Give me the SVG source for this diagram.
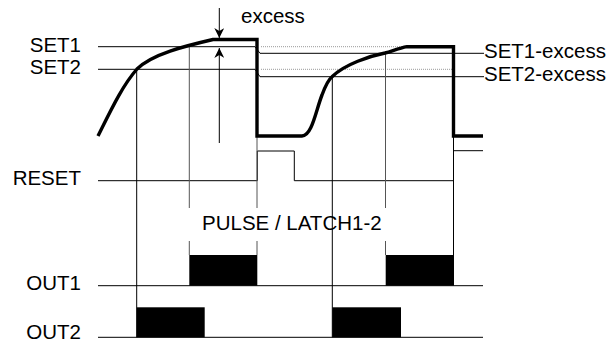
<svg xmlns="http://www.w3.org/2000/svg" width="610" height="341" viewBox="0 0 610 341">
<style>
text{font-family:"Liberation Sans",Arial,sans-serif;font-size:20.5px;fill:#000}
.t{fill:none;stroke:#000;stroke-width:1}
.g{fill:none;stroke:#555;stroke-width:1}
.d{fill:none;stroke:#999;stroke-width:1;stroke-dasharray:1 1}
.k{fill:none;stroke:#000;stroke-width:3.4;stroke-linejoin:miter}
.p{fill:#000;stroke:none}
</style>
<defs>
<marker id="ah" viewBox="0 0 10 10" refX="10" refY="5" markerWidth="10" markerHeight="10" markerUnits="userSpaceOnUse" orient="auto">
<path d="M0,0 L10,5 L0,10 L3,5 Z" fill="#000"/>
</marker>
</defs>
<rect width="610" height="341" fill="#fff"/>
<g id="labels">
<text x="81" y="51.5" text-anchor="end">SET1</text>
<text x="81" y="74" text-anchor="end">SET2</text>
<text x="81" y="185" text-anchor="end">RESET</text>
<text x="81" y="290" text-anchor="end">OUT1</text>
<text x="81" y="338.5" text-anchor="end">OUT2</text>
<text x="241" y="22.5">excess</text>
<text x="484" y="57.5">SET1-excess</text>
<text x="484" y="80.5">SET2-excess</text>
<text x="202" y="230">PULSE / LATCH1-2</text>
</g>
<g id="connectors">
<path class="t" d="M98,46.7 H255 L260,53.3 H484"/>
<path class="t" d="M98,69.3 H255 L260,76.7 H484"/>
<path class="d" d="M261,46.7 H407"/>
<path class="d" d="M261,69.3 H453"/>
<path class="t" d="M98,180.7 H257.3 V151 H294.3 V180.7 H453.5 V150.7 H483"/>
<path class="t" d="M98,285.7 H483"/>
<path class="t" d="M98,337.3 H483"/>
<path class="t" d="M136.7,69.3 V337.3"/>
<path class="t" d="M332.3,76.7 V337.3"/>
<path class="g" d="M189.3,46.7 V208 M189.3,241 V255"/>
<path class="g" d="M257,136 V208 M257,241 V255"/>
<path class="g" d="M385.5,53.3 V208 M385.5,241 V255"/>
<path class="t" d="M453.5,136 V255"/>
<path class="t" d="M219.3,8 V38" marker-end="url(#ah)"/>
<path class="t" d="M219.3,143 V48" marker-end="url(#ah)"/>
</g>
<g id="signal">
<path class="k" d="M98,136 C110,112 122,86 137,69 C152,54 185,46 213,39.5 H257 V136 H302 C312,136 316,110 322,95 C326,84 328,80 332,76.7 C345,64 370,56 385,53 C395,50 400,48 407,46.7 H453.5 V136 H483"/>
</g>
<g id="out1">
<rect class="p" x="189.3" y="255" width="68" height="30.7"/>
<rect class="p" x="385.7" y="255" width="68.3" height="30.7"/>
</g>
<g id="out2">
<rect class="p" x="136.7" y="307.3" width="68" height="30"/>
<rect class="p" x="332.3" y="307.3" width="68.7" height="30"/>
</g>
</svg>
